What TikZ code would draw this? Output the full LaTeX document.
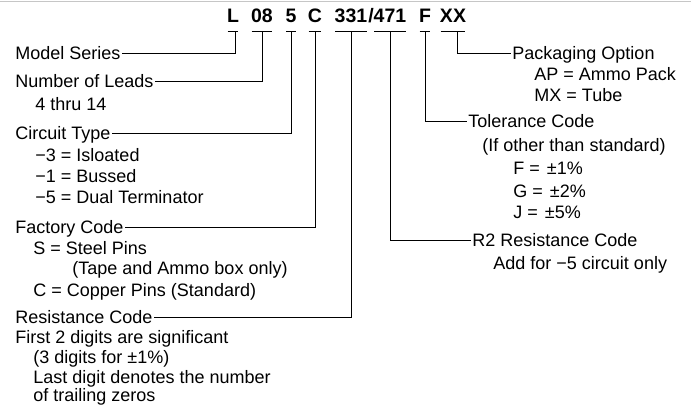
\documentclass[tikz,border=0pt]{standalone}
\usepackage{fontspec}
\setmainfont{Liberation Sans}
\begin{document}
\begin{tikzpicture}[x=1pt, y=-1pt, line width=0.9pt,
    lbl/.style={anchor=west, inner xsep=1.5pt, inner ysep=0pt,
        text height=12.6pt, text depth=0pt, font=\fontsize{18}{20}\selectfont},
    code/.style={inner sep=0pt, text height=14pt, text depth=0pt,
        font=\fontsize{19.5}{22}\selectfont\bfseries}]
    \useasboundingbox (0,0) rectangle (691,415);

    % Scan edge
    \draw[gray!45, line width=1pt] (0,1.5) -- (691,1.5);

    % Part number
    \node[code] (L) at (233,15) {L};
    \node[code] (n08) at (262,15) {08};
    \node[code] (n5) at (291,15) {5};
    \node[code] (nC) at (315,15) {C};
    \node[code] (r331) at (351,15) {331};
    \node[code] (slash) at (371,15) {/};
    \node[code] (r471) at (390,15) {471};
    \node[code] (nF) at (425,15) {F};
    \node[code] (nXX) at (453,15) {XX};

    % Bars under the fields
    \foreach \n in {L,n08,n5,nC,r331,r471,nF,nXX}
        \draw ([xshift=1pt,yshift=-9pt]\n.south west) -- ([xshift=-1pt,yshift=-9pt]\n.south east);

    % Left labels
    \node[lbl] (ms) at (13.5,53) {Model Series};
    \node[lbl] (nl) at (13.5,81) {Number of Leads};
    \node[lbl] (nl1) at (33.5,104) {4 thru 14};
    \node[lbl] (ct) at (13.5,133) {Circuit Type};
    \node[lbl] (ct1) at (33.5,155) {−3 = Isloated};
    \node[lbl] (ct2) at (33.5,176) {−1 = Bussed};
    \node[lbl] (ct3) at (33.5,197) {−5 = Dual Terminator};
    \node[lbl] (fc) at (13.5,227) {Factory Code};
    \node[lbl] (fc1) at (31.5,248) {S = Steel Pins};
    \node[lbl] (fc2) at (70.5,268) {(Tape and Ammo box only)};
    \node[lbl] (fc3) at (31.5,290) {C = Copper Pins (Standard)};
    \node[lbl] (rc) at (13.5,317) {Resistance Code};
    \node[lbl] (rc1) at (13.5,337) {First 2 digits are significant};
    \node[lbl] (rc2) at (31.5,357) {(3 digits for ±1\%)};
    \node[lbl] (rc3) at (31.5,377) {Last digit denotes the number};
    \node[lbl] (rc4) at (31.5,395) {of trailing zeros};

    % Right labels
    \node[lbl] (po) at (510.5,53) {Packaging Option};
    \node[lbl] (po1) at (532.5,74) {AP = Ammo Pack};
    \node[lbl] (po2) at (532.5,95) {MX = Tube};
    \node[lbl] (tc) at (466.5,121) {Tolerance Code};
    \node[lbl] (tc1) at (480.5,145) {(If other than standard)};
    \node[lbl] (tc2) at (511.5,168) {F = \hspace{2pt}±1\%};
    \node[lbl] (tc3) at (511.5,191) {G = \hspace{2pt}±2\%};
    \node[lbl] (tc4) at (511.5,212) {J = \hspace{2pt}±5\%};
    \node[lbl] (r2) at (470.5,240) {R2 Resistance Code};
    \node[lbl] (r21) at (491.5,263) {Add for −5 circuit only};

    % Leaders
    \draw ([xshift=2pt,yshift=-9pt]L.south) |- (ms.east);
    \draw ([yshift=-9pt]n08.south) |- (nl.east);
    \draw ([yshift=-9pt]n5.south) |- (ct.east);
    \draw ([yshift=-9pt]nC.south) |- (fc.east);
    \draw ([yshift=-9pt]r331.south) |- (rc.east);
    \draw ([yshift=-9pt]r471.south) |- (r2.west);
    \draw ([yshift=-9pt]nF.south) |- (tc.west);
    \draw ([xshift=4pt,yshift=-9pt]nXX.south) |- (po.west);
\end{tikzpicture}
\end{document}
